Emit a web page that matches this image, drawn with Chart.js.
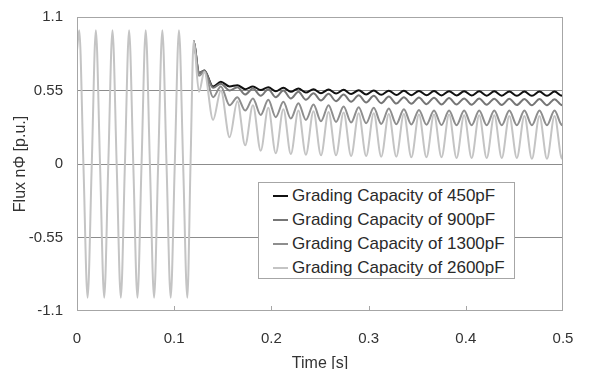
<!DOCTYPE html>
<html>
<head>
<meta charset="utf-8">
<script src="https://cdn.jsdelivr.net/npm/chart.js@4/dist/chart.umd.min.js"></script>
<style>
  body { margin: 0; background: #fff; }
  #wrap { position: relative; width: 589px; height: 369px; }
  #legend {
    position: absolute; left: 258px; top: 182px; width: 257px; height: 97px;
    box-sizing: border-box; border: 1px solid #a6a6a6; background: #fff;
    padding-top: 1px; font-family: "Liberation Sans", Arial, sans-serif; font-size: 17px; color: #2a2a2a;
  }
  .row { height: 24px; display: flex; align-items: center; }
  .swatch { width: 15px; height: 2px; margin-left: 14px; margin-right: 4px; }
</style>
</head>
<body>
<div id="wrap">
  <canvas id="chart" width="589" height="369"></canvas>
  <div id="legend"></div>
</div>
<script>
// Data
const seriesNames = ['Grading Capacity of 450pF', 'Grading Capacity of 900pF', 'Grading Capacity of 1300pF', 'Grading Capacity of 2600pF'];
const seriesColors = ['#111111', '#767676', '#8e8e8e', '#c4c4c4'];

const xTicks = [0, 0.1, 0.2, 0.3, 0.4, 0.5];
const yTicks = [-1.1, -0.55, 0, 0.55, 1.1];

// time points (s): steady sine, switching spike, then the decaying oscillation
const timeS = [
  0, 0.0023, 0.0066, 0.0109, 0.0152, 0.0194, 0.0237, 0.0280, 0.0322, 0.0365,
  0.0408, 0.0451, 0.0493, 0.0536, 0.0579, 0.0622, 0.0664, 0.0707, 0.0750, 0.0793,
  0.0835, 0.0878, 0.0921, 0.0964, 0.1006, 0.1049, 0.1092, 0.1135, 0.1168, 0.1200,
  0.1255, 0.1310, 0.1400, 0.1480, 0.1570, 0.1650, 0.1730, 0.1810,
  0.1890, 0.1968, 0.2045, 0.2123, 0.2200, 0.2278, 0.2355, 0.2433, 0.2510, 0.2588,
  0.2665, 0.2743, 0.2820, 0.2898, 0.2975, 0.3053, 0.3130, 0.3208, 0.3285, 0.3363,
  0.3440, 0.3518, 0.3595, 0.3673, 0.3750, 0.3828, 0.3905, 0.3983, 0.4060, 0.4138,
  0.4215, 0.4293, 0.4370, 0.4448, 0.4525, 0.4603, 0.4680, 0.4758, 0.4835, 0.4913,
  0.4990, 0.5
];
const splitTime = 0.1200;

// identical for every capacity up to the switching spike
const fluxBefore = [
  0.85, 1.0, 0, -1.0, 0, 1.0, 0, -1.0, 0, 1.0,
  0, -1.0, 0, 1.0, 0, -1.0, 0, 1.0, 0, -1.0,
  0, 1.0, 0, -1.0, 0, 1.0, 0, -1.0, 0, 0.92
];

const flux450 = [
  0.68, 0.70, 0.58, 0.615, 0.58, 0.59, 0.56, 0.58,
  0.553, 0.575, 0.545, 0.57, 0.54, 0.565, 0.535, 0.56, 0.53, 0.557,
  0.527, 0.555, 0.524, 0.552, 0.52, 0.55, 0.518, 0.549, 0.516, 0.548,
  0.515, 0.547, 0.514, 0.546, 0.513, 0.545, 0.512, 0.545, 0.512, 0.544,
  0.511, 0.544, 0.511, 0.543, 0.51, 0.543, 0.51, 0.543, 0.51, 0.543,
  0.51, 0.52
];
const flux900 = [
  0.68, 0.70, 0.57, 0.60, 0.55, 0.575, 0.52, 0.565,
  0.51, 0.56, 0.50, 0.55, 0.49, 0.54, 0.48, 0.53, 0.475, 0.525,
  0.47, 0.52, 0.465, 0.515, 0.46, 0.51, 0.455, 0.505, 0.452, 0.50,
  0.45, 0.497, 0.448, 0.495, 0.446, 0.493, 0.445, 0.491, 0.444, 0.49,
  0.443, 0.489, 0.442, 0.488, 0.441, 0.487, 0.44, 0.486, 0.44, 0.485,
  0.44, 0.45
];
const flux1300 = [
  0.66, 0.69, 0.50, 0.58, 0.44, 0.50, 0.40, 0.49,
  0.367, 0.48, 0.35, 0.465, 0.34, 0.455, 0.33, 0.445, 0.32, 0.44,
  0.315, 0.43, 0.31, 0.425, 0.305, 0.42, 0.30, 0.415, 0.298, 0.41,
  0.296, 0.405, 0.294, 0.40, 0.292, 0.40, 0.29, 0.40, 0.29, 0.40,
  0.29, 0.40, 0.29, 0.40, 0.29, 0.40, 0.29, 0.40, 0.29, 0.40,
  0.29, 0.31
];
const flux2600 = [
  0.54, 0.69, 0.33, 0.55, 0.20, 0.47, 0.14, 0.44,
  0.10, 0.42, 0.08, 0.41, 0.075, 0.40, 0.07, 0.395, 0.065, 0.39,
  0.065, 0.385, 0.06, 0.38, 0.06, 0.38, 0.055, 0.375, 0.055, 0.375,
  0.05, 0.37, 0.05, 0.37, 0.05, 0.37, 0.045, 0.365, 0.045, 0.365,
  0.045, 0.365, 0.045, 0.36, 0.045, 0.36, 0.04, 0.36, 0.04, 0.36,
  0.04, 0.08
];

const seriesValues = [flux450, flux900, flux1300, flux2600];

function toPoints(values) {
  const all = fluxBefore.concat(values);
  return timeS.map((t, i) => ({ x: t, y: all[i] }));
}

const topIndex = seriesNames.length - 1;

const datasets = seriesNames.map((name, i) => ({
  label: name,
  data: toPoints(seriesValues[i]),
  borderColor: seriesColors[i],
  borderWidth: 2,
  pointRadius: 0,
  cubicInterpolationMode: 'monotone',
  order: topIndex - i,   // lightest curve ends up on top
  // curves coincide up to the spike: only the top one is stroked there
  segment: {
    borderColor: ctx => (i !== topIndex && ctx.p1.parsed.x <= splitTime ? 'rgba(0,0,0,0)' : undefined)
  }
}));

const fontFamily = '"Liberation Sans", Arial, sans-serif';
const textColor = '#333333';

// frame around the plot and small inward ticks on the time axis
const framePlugin = {
  id: 'frame',
  afterDraw(chart) {
    const { ctx, chartArea: a, scales } = chart;
    ctx.save();
    ctx.strokeStyle = '#a6a6a6';
    ctx.lineWidth = 1;
    ctx.strokeRect(Math.round(a.left) + 0.5, Math.round(a.top) + 0.5,
      Math.round(a.right - a.left) - 1, Math.round(a.bottom - a.top) - 1);
    ctx.beginPath();
    xTicks.slice(1, -1).forEach(v => {
      const px = Math.round(scales.x.getPixelForValue(v)) + 0.5;
      ctx.moveTo(px, a.bottom);
      ctx.lineTo(px, a.bottom - 5);
    });
    ctx.stroke();
    ctx.restore();
  }
};

const chart = new Chart(document.getElementById('chart'), {
  type: 'line',
  data: { datasets },
  options: {
    responsive: false,
    animation: false,
    devicePixelRatio: 1,
    layout: { padding: { top: 17, right: 26, left: 0, bottom: 0 } },
    plugins: { legend: { display: false }, tooltip: { enabled: false } },
    scales: {
      x: {
        type: 'linear',
        min: 0,
        max: 0.5,
        afterBuildTicks: s => { s.ticks = xTicks.map(v => ({ value: v })); },
        afterFit: s => { s.height = 58; s.paddingLeft = 0; s.paddingRight = 0; },
        grid: { display: false },
        border: { display: false },
        ticks: {
          padding: 11,
          color: textColor,
          font: { family: fontFamily, size: 15 },
          callback: v => String(v)
        },
        title: {
          display: true,
          text: 'Time [s]',
          color: textColor,
          font: { family: fontFamily, size: 16, lineHeight: 0.7 },
          padding: { top: 2, bottom: 0 }
        }
      },
      y: {
        min: -1.1,
        max: 1.1,
        afterBuildTicks: s => { s.ticks = yTicks.map(v => ({ value: v })); },
        afterFit: s => { s.width = 77; s.paddingTop = 0; s.paddingBottom = 0; },
        grid: {
          drawTicks: false,
          color: c => (Math.abs(c.tick.value) > 1 ? 'rgba(0,0,0,0)' : '#8c8c8c')
        },
        border: { display: false },
        ticks: {
          padding: 14,
          color: textColor,
          font: { family: fontFamily, size: 15 },
          callback: v => String(v)
        },
        title: {
          display: true,
          text: 'Flux nΦ [p.u.]',
          color: textColor,
          font: { family: fontFamily, size: 16 },
          padding: { top: 11, bottom: 0 }
        }
      }
    }
  },
  plugins: [framePlugin]
});

// legend box inside the plot
const legendEl = document.getElementById('legend');
chart.data.datasets.forEach(ds => {
  const row = document.createElement('div');
  row.className = 'row';
  const sw = document.createElement('span');
  sw.className = 'swatch';
  sw.style.background = ds.borderColor;
  const label = document.createElement('span');
  label.textContent = ds.label;
  row.appendChild(sw);
  row.appendChild(label);
  legendEl.appendChild(row);
});
</script>
</body>
</html>
